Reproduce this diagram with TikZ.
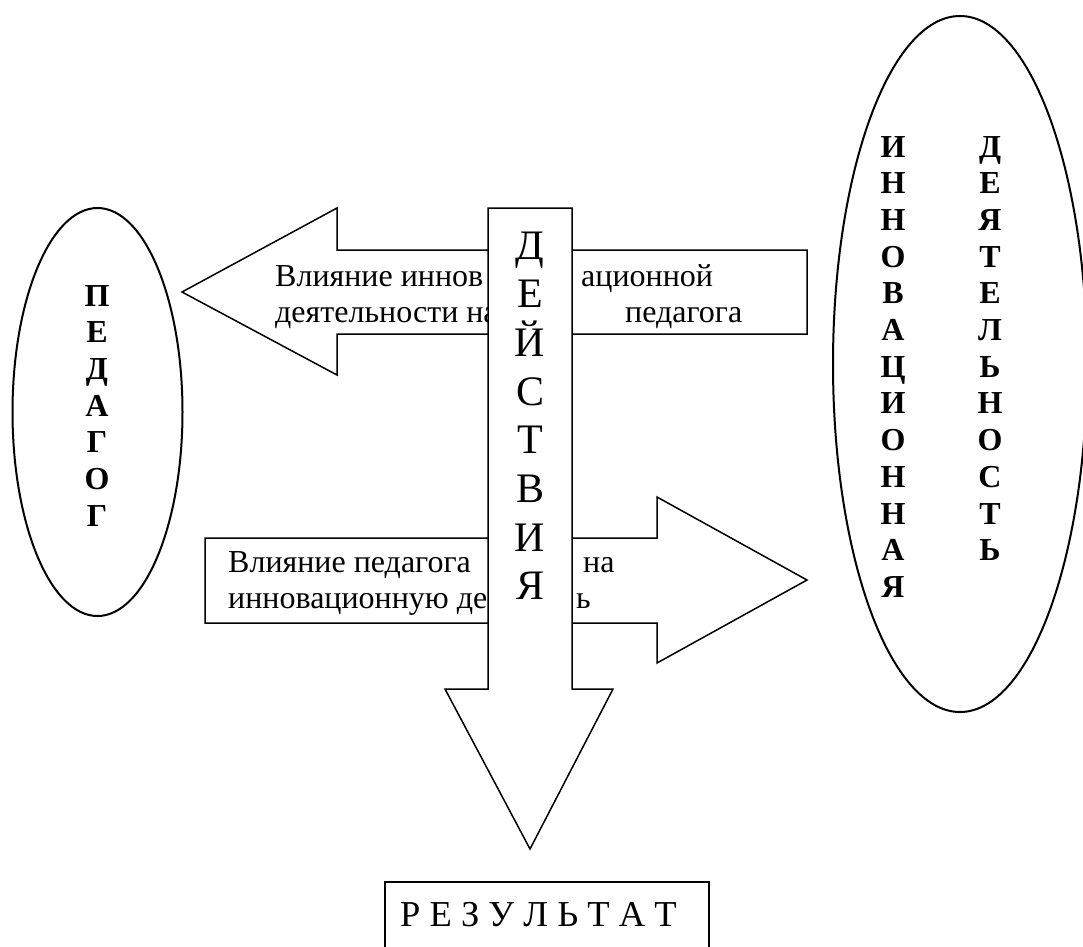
\documentclass[tikz,border=0pt]{standalone}
\usepackage{fontspec}
\setmainfont{Liberation Serif}
\usetikzlibrary{shapes.geometric}
\begin{document}
\begin{tikzpicture}[x=1pt,y=-1pt,
  shapebox/.style={draw=black, line width=1.5pt, fill=white, line join=miter},
  oval/.style={draw=black, line width=2pt, ellipse, inner sep=0pt},
  txt/.style={font=\fontsize{32}{36}\selectfont, inner sep=0pt, anchor=base west},
  vlet/.style={font=\bfseries\fontsize{32}{36}\selectfont, inner sep=0pt, anchor=base},
  dlet/.style={font=\fontsize{42}{48}\selectfont, inner sep=0pt, anchor=base},
]
\useasboundingbox (0,0) rectangle (1083,946);
\clip (0,0) rectangle (1083,946);

% ellipses
\node[oval, minimum width=170pt, minimum height=408pt] (ped) at (97.5,412) {};
\foreach \ch [count=\i from 0] in {П,Е,Д,А,Г,О,Г}
  \node[vlet] (ped\i) at ({97},{306+36.7*\i}) {\ch};

\node[oval, minimum width=254pt, minimum height=696pt] (innov) at (960,364) {};
\foreach \ch [count=\i from 0] in {И,Н,Н,О,В,А,Ц,И,О,Н,Н,А,Я}
  \node[vlet] (inl\i) at ({893},{157+36.7*\i}) {\ch};
\foreach \ch [count=\i from 0] in {Д,Е,Я,Т,Е,Л,Ь,Н,О,С,Т,Ь}
  \node[vlet] (inr\i) at ({990},{157+36.7*\i}) {\ch};

% left-pointing arrow
\draw[shapebox] (182,292) -- (337,208) -- (337,250) -- (807,250) -- (807,334)
  -- (337,334) -- (337,375) -- cycle;
\node[txt] (t1a) at (275,286) {Влияние иннов};
\node[txt] (t1b) at (581,286) {ационной};
\node[txt] (t2a) at (275,322) {деятельности на};
\node[txt] (t2b) at (625,322) {педагога};

% right-pointing arrow
\draw[shapebox] (205,538) -- (657,538) -- (657,497) -- (807,580) -- (657,663)
  -- (657,623) -- (205,623) -- cycle;
\node[txt] (b1a) at (228,572) {Влияние педагога};
\node[txt] (b1b) at (583,572) {на};
\node[txt] (b2a) at (228,608) {инновационную де};
\node[txt] (b2b) at (576,608) {ь};

% down arrow
\draw[shapebox] (488,208) -- (572,208) -- (572,689) -- (613,689) -- (530,849)
  -- (445,689) -- (488,689) -- cycle;
\foreach \ch [count=\i from 0] in {Д,Е,Й,С,Т,В,И,Я}
  \node[dlet] (d\i) at ({530},{259+48.7*\i}) {\ch};

% result box
\node[draw=black, line width=1.5pt, minimum width=324pt, minimum height=100pt,
  anchor=north west, inner sep=0pt] (resbox) at (384,881) {};
\node[font=\fontsize{36.5}{40}\selectfont, anchor=base west, inner sep=0pt]
  (restext) at (400,926) {Р Е З У Л Ь Т А Т};
\end{tikzpicture}
\end{document}
